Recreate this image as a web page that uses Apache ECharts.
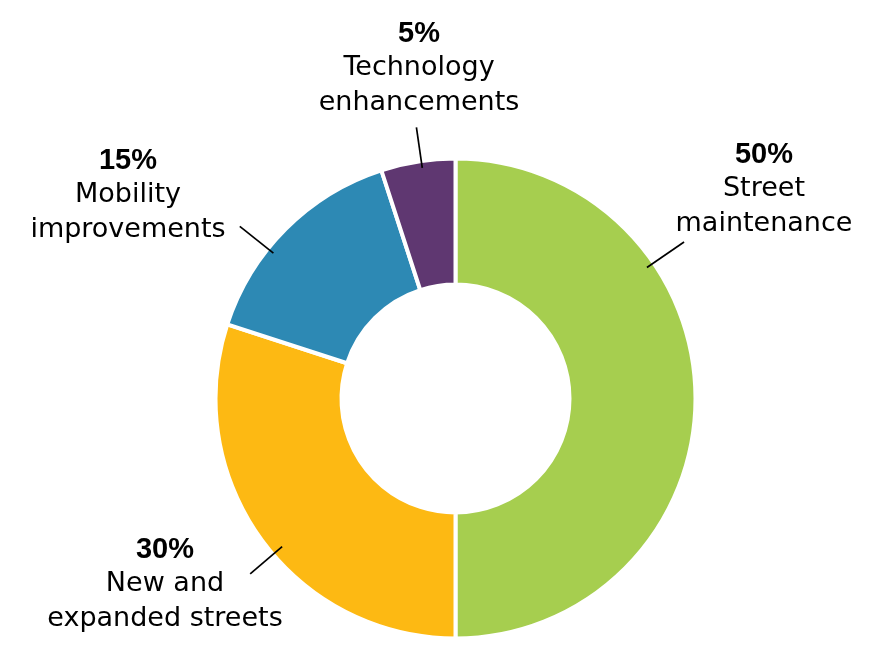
<!DOCTYPE html>
<html>
<head>
<meta charset="utf-8">
<script src="https://cdn.jsdelivr.net/npm/echarts@6/dist/echarts.min.js"></script>
<style>html,body{margin:0;padding:0;background:#fff;}#c{width:882px;height:645px;}</style>
</head>
<body>
<div id="c"></div>
<script>
const categories = ['Street maintenance', 'New and expanded streets', 'Mobility improvements', 'Technology enhancements'];
const values = [50, 30, 15, 5];
const labelLines = [['Street', 'maintenance'], ['New and', 'expanded streets'], ['Mobility', 'improvements'], ['Technology', 'enhancements']];
const colors = ['#A6CE4F', '#FDB913', '#2D89B4', '#5F3771'];

// label block centres and leader-line geometry (angle in degrees, radii in px)
const labelPos = [[764, 189], [165, 584], [128, 195], [419, 68]];
const leaders = [[34.4, 232, 277], [220.5, 228, 270], [141.4, 233, 276], [98.2, 233, 274]];
const cx = 455.5, cy = 398.5;

const chart = echarts.init(document.getElementById('c'));
chart.setOption({
  animation: false,
  backgroundColor: '#fff',
  series: [{
    type: 'pie',
    z: 2,
    silent: true,
    center: [cx, cy],
    radius: [114, 240],
    startAngle: 90,
    clockwise: true,
    itemStyle: { borderColor: '#fff', borderWidth: 4 },
    label: { show: false },
    labelLine: { show: false },
    data: categories.map(function (c, i) {
      return { name: c, value: values[i], itemStyle: { color: colors[i] } };
    })
  }, {
    type: 'pie',
    z: 5,
    silent: true,
    center: [cx, cy],
    radius: [114, 240],
    startAngle: 90,
    clockwise: true,
    avoidLabelOverlap: false,
    itemStyle: { color: 'rgba(0,0,0,0)', borderWidth: 0 },
    label: {
      show: true,
      position: 'outside',
      formatter: function (p) {
        const l = labelLines[p.dataIndex];
        return '{p|' + p.value + '%}\n{t|' + l[0] + '}\n{t|' + l[1] + '}';
      },
      rich: {
        p: { fontFamily: 'Liberation Sans', fontWeight: 'bold', fontSize: 29, lineHeight: 34.5, color: '#000', align: 'center' },
        t: { fontFamily: 'DejaVu Sans', fontSize: 27, lineHeight: 34.5, color: '#000', align: 'center' }
      }
    },
    labelLine: { show: true, showAbove: true, lineStyle: { color: '#000', width: 1.7 } },
    labelLayout: function (params) {
      const i = params.dataIndex;
      const L = leaders[i];
      const a = L[0] * Math.PI / 180;
      const p1 = [cx + L[1] * Math.cos(a), cy - L[1] * Math.sin(a)];
      const p2 = [cx + L[2] * Math.cos(a), cy - L[2] * Math.sin(a)];
      return {
        x: labelPos[i][0],
        y: labelPos[i][1],
        align: 'center',
        verticalAlign: 'middle',
        labelLinePoints: [p1, p2, p2]
      };
    },
    data: categories.map(function (c, i) {
      return { name: c, value: values[i] };
    })
  }]
});
</script>
</body>
</html>
